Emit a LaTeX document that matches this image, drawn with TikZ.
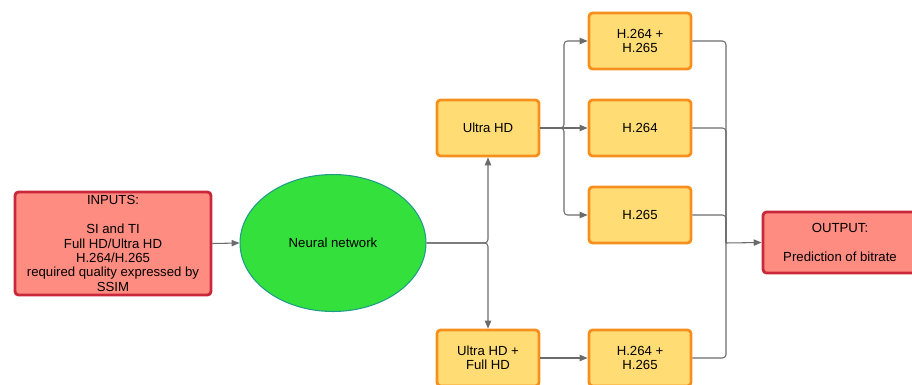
\documentclass[tikz,border=0pt]{standalone}
\usepackage{fontspec}
\setmainfont{Liberation Sans}
\usetikzlibrary{arrows.meta,shapes.geometric}

\definecolor{boxred}{HTML}{FF8C80}
\definecolor{edgered}{HTML}{C9283A}
\definecolor{boxyellow}{HTML}{FFDD74}
\definecolor{edgeorange}{HTML}{F5901F}
\definecolor{blobgreen}{HTML}{34E03C}
\definecolor{edgeteal}{HTML}{1E9C8A}
\definecolor{wire}{HTML}{6B6B6B}

\begin{document}
\begin{tikzpicture}[x=0.02cm,y=-0.02cm,
	every node/.style={font=\fontsize{7.5}{8.2}\selectfont,align=center,inner sep=1pt},
	redbox/.style={draw=edgered,fill=boxred,line width=1.6pt,rounded corners=2pt},
	codec/.style={draw=edgeorange,fill=boxyellow,line width=1.6pt,rounded corners=2pt,
		minimum width=2.04cm,minimum height=1.12cm},
	wireline/.style={draw=wire,line width=0.6pt,rounded corners=2pt},
	wirearrow/.style={wireline,-{Triangle[length=4.5pt,width=3.6pt]}}]
%\draw [help lines,black!20!white] (0,0) grid (912,385);
\useasboundingbox (0,0) rectangle (912,385);
\clip (0,0) rectangle (912,385);

% inputs and the network
\node[redbox,minimum width=3.92cm,minimum height=2.06cm] (inputs) at (113,243.5)
	{INPUTS:\\[8.2pt]SI and TI\\Full HD/Ultra HD\\H.264/H.265\\required quality expressed by\\SSIM};
\node[ellipse,draw=edgeteal,fill=blobgreen,line width=0.6pt,
	minimum width=3.72cm,minimum height=2.74cm] (net) at (333,243) {Neural network};

% resolutions
\node[codec] (uhd) at (488,128) {Ultra HD};
\node[codec] (mixed) at (488,358) {Ultra HD +\\Full HD};

% codecs
\node[codec] (both) at (640,41) {H.264 +\\H.265};
\node[codec] (avc) at (640,128) {H.264};
\node[codec] (hevc) at (640,215) {H.265};
\node[codec] (bothb) at (640,358) {H.264 +\\H.265};

% output
\node[redbox,minimum width=3.08cm,minimum height=1.22cm] (out) at (840,242.5)
	{OUTPUT:\\[8.2pt]Prediction of bitrate};

\coordinate (split) at (564,128);
\coordinate (merge) at (726,243);

\draw[wirearrow] (inputs.east) -- (net.west);
\draw[wirearrow] (net.east) -| (uhd.south);
\draw[wirearrow] (net.east) -| (mixed.north);

\draw[wirearrow] (uhd.east) -- (split) |- (both.west);
\draw[wirearrow] (uhd.east) -- (avc.west);
\draw[wirearrow] (uhd.east) -- (split) |- (hevc.west);
\draw[wirearrow] (mixed.east) -- (bothb.west);

\foreach \n in {both,avc,hevc,bothb}{
	\draw[wireline] (\n.east) -| (merge);}
\draw[wirearrow] (merge) -- (out.west);

\end{tikzpicture}
\end{document}
